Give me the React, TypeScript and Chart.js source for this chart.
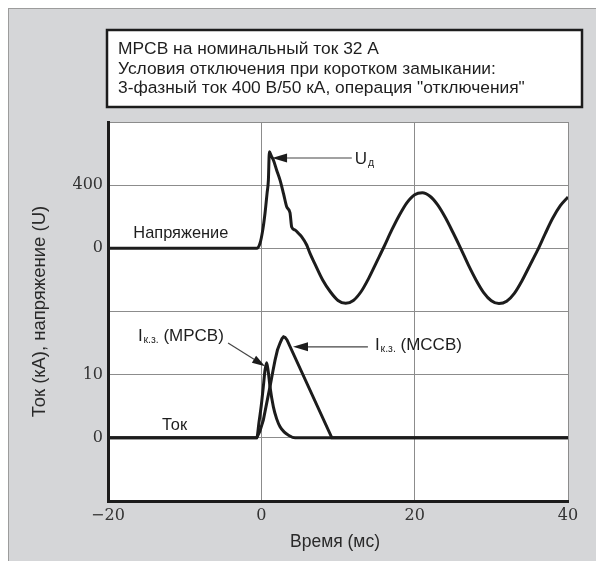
import { useEffect, useRef } from "react";
import { Chart, registerables } from "chart.js";

Chart.register(...registerables);

// ---------- data ----------
const timeTicks = [-20, 0, 20, 40];

const voltageTime = [
  -20, -0.6, -0.17, 0.2, 0.48, 0.75, 0.92, 1.05, 1.3, 1.57, 2.0, 2.44, 2.9, 3.31, 3.74, 3.96, 4.4, 4.9,
  5.27, 5.92, 6.35, 7, 8, 9, 10, 11, 12, 13, 14, 15, 16, 17, 18, 19, 20, 21, 22, 23, 24, 25, 26, 27, 28,
  29, 30, 31, 32, 33, 34, 35, 36, 37, 38, 39, 40,
];
const voltageValues = [
  0, 0, 32, 120, 222, 350, 432, 612, 585, 559, 495, 432, 345, 263, 225, 135, 116, 92,
  73, 21, -32, -100, -200, -275, -330, -348, -330, -275, -190, -90, 10, 115, 210, 290, 340, 352, 330, 275,
  195, 100, 0, -105, -200, -280, -332, -350, -335, -285, -205, -110, -15, 90, 190, 270, 325,
];

const mpcbTime = [-20, -0.6, -0.3, 0, 0.26, 0.48, 0.7, 0.9, 1.13, 1.57, 2.0, 2.44, 3.0, 3.5, 4.4, 40];
const mpcbValues = [0, 0, 2.5, 5.2, 8.1, 10.7, 11.9, 10.5, 8.1, 4.9, 3.0, 1.76, 0.9, 0.45, 0, 0];

const mccbTime = [-20, -0.6, -0.2, 0.26, 0.7, 1.13, 1.5, 1.79, 2.1, 2.44, 2.7, 2.9, 3.1, 3.35, 9.2, 40];
const mccbValues = [0, 0, 1.0, 2.8, 5.5, 8.1, 10.5, 12.3, 13.9, 15.0, 15.7, 16.0, 15.9, 15.5, 0, 0];

const voltageTickLabels = [400, 0];
const currentTickLabels = [10, 0];

const titleLines = [
  "MPCB на номинальный ток 32 А",
  "Условия отключения при коротком замыкании:",
  "3-фазный ток 400 В/50 кА, операция \"отключения\"",
];
const xTitle = "Время (мс)";
const yTitle = "Ток (кА), напряжение (U)";

// plain text notes (data coordinates)
const noteTexts = ["Напряжение", "Ток"];
const noteTimes = [-16.7, -12.95];
const noteValues = [68, 1.23];
const noteAxes = ["yV", "yI"];

// labels with subscript
const subMain = ["U", "I", "I"];
const subText = ["д", "к.з.", "к.з."];
const subRest = ["", " (MPCB)", " (MCCB)"];
const subTimes = [12.2, -16.1, 14.83];
const subValues = [534, 15.3, 13.9];
const subAxes = ["yV", "yI", "yI"];

// arrows (data coordinates)
const arrowFromT = [11.8, -4.34, 13.9];
const arrowFromV = [572, 15.0, 14.4];
const arrowToT = [1.4, 0.48, 4.13];
const arrowToV = [572, 11.35, 14.4];
const arrowAxes = ["yV", "yI", "yI"];
const arrowHeadLen = [15, 13, 15];
const arrowHeadWid = [9, 8, 9];

// ---------- styling ----------
const SANS = '"Liberation Sans", Arial, sans-serif';
const SERIF = '"DejaVu Serif", serif';
const INK = "#1c1c1c";
const GRID = "#8c8c8c";

const toPoints = (xs: number[], ys: number[]) => xs.map((x, i) => ({ x, y: ys[i] }));

function drawArrow(ctx: CanvasRenderingContext2D, x1: number, y1: number, x2: number, y2: number, hl: number, hw: number) {
  const ang = Math.atan2(y2 - y1, x2 - x1);
  const bx = x2 - Math.cos(ang) * hl;
  const by = y2 - Math.sin(ang) * hl;
  ctx.strokeStyle = "#444";
  ctx.lineWidth = 1.2;
  ctx.beginPath();
  ctx.moveTo(x1, y1);
  ctx.lineTo(bx, by);
  ctx.stroke();
  ctx.fillStyle = INK;
  ctx.beginPath();
  ctx.moveTo(x2, y2);
  ctx.lineTo(bx + Math.sin(ang) * hw / 2, by - Math.cos(ang) * hw / 2);
  ctx.lineTo(bx - Math.sin(ang) * hw / 2, by + Math.cos(ang) * hw / 2);
  ctx.closePath();
  ctx.fill();
}

const overlay = {
  id: "overlay",
  beforeDraw(chart: any) {
    const { ctx, chartArea: a } = chart;
    ctx.save();
    ctx.fillStyle = "#ffffff";
    ctx.fillRect(a.left, a.top, a.right - a.left, a.bottom - a.top);
    // title box
    ctx.fillRect(98, 21, 475, 77);
    ctx.strokeStyle = INK;
    ctx.lineWidth = 2.5;
    ctx.strokeRect(98, 21, 475, 77);
    ctx.fillStyle = "#1e1e1e";
    ctx.font = `17.4px ${SANS}`;
    ctx.textBaseline = "alphabetic";
    ctx.textAlign = "left";
    titleLines.forEach((l, i) => ctx.fillText(l, 109, 45 + i * 19.7));
    // axis titles
    ctx.fillStyle = "#2a2a2a";
    ctx.textAlign = "center";
    ctx.textBaseline = "middle";
    ctx.font = `17.5px ${SANS}`;
    ctx.fillText(xTitle, (a.left + a.right) / 2 - 3, 533);
    ctx.save();
    ctx.translate(31, (a.top + a.bottom) / 2);
    ctx.rotate(-Math.PI / 2);
    ctx.font = `18.5px ${SANS}`;
    ctx.fillText(yTitle, 0, 0);
    ctx.restore();
    ctx.restore();
  },
  afterDatasetsDraw(chart: any) {
    const { ctx, scales } = chart;
    const sx = scales.x;
    ctx.save();
    ctx.fillStyle = "#1e1e1e";
    ctx.textAlign = "left";
    ctx.textBaseline = "alphabetic";
    ctx.font = `16.4px ${SANS}`;
    noteTexts.forEach((t, i) => {
      ctx.fillText(t, sx.getPixelForValue(noteTimes[i]), scales[noteAxes[i]].getPixelForValue(noteValues[i]));
    });
    subMain.forEach((m, i) => {
      let x = sx.getPixelForValue(subTimes[i]);
      const y = scales[subAxes[i]].getPixelForValue(subValues[i]);
      ctx.font = `17px ${SANS}`;
      ctx.fillText(m, x, y);
      x += ctx.measureText(m).width + 0.8;
      ctx.font = `10.5px ${SANS}`;
      ctx.fillText(subText[i], x, y + 1.5);
      x += ctx.measureText(subText[i]).width;
      ctx.font = `17px ${SANS}`;
      if (subRest[i]) ctx.fillText(subRest[i], x, y);
    });
    arrowFromT.forEach((t, i) => {
      const ys = scales[arrowAxes[i]];
      drawArrow(
        ctx,
        sx.getPixelForValue(t),
        ys.getPixelForValue(arrowFromV[i]),
        sx.getPixelForValue(arrowToT[i]),
        ys.getPixelForValue(arrowToV[i]),
        arrowHeadLen[i],
        arrowHeadWid[i]
      );
    });
    ctx.restore();
  },
};

const tickFont = { family: SERIF, size: 16 };

export default function App() {
  const ref = useRef<HTMLCanvasElement>(null);
  useEffect(() => {
    const lineStyle = {
      borderColor: INK,
      borderWidth: 3,
      pointRadius: 0,
      fill: false,
    };
    const chart = new Chart(ref.current!, {
      type: "line",
      data: {
        datasets: [
          { ...lineStyle, cubicInterpolationMode: "monotone", data: toPoints(voltageTime, voltageValues), xAxisID: "x", yAxisID: "yV" },
          { ...lineStyle, tension: 0, data: toPoints(mccbTime, mccbValues), xAxisID: "x", yAxisID: "yI" },
          { ...lineStyle, cubicInterpolationMode: "monotone", data: toPoints(mpcbTime, mpcbValues), xAxisID: "x", yAxisID: "yI" },
        ],
      },
      options: {
        animation: false,
        responsive: false,
        devicePixelRatio: 1,
        events: [],
        layout: { padding: { top: 113, right: 30, left: 0, bottom: 0 } },
        plugins: { legend: { display: false }, tooltip: { enabled: false } },
        scales: {
          x: {
            type: "linear",
            min: -20,
            max: 40,
            afterBuildTicks: (s: any) => {
              s.ticks = timeTicks.map((v) => ({ value: v }));
            },
            ticks: {
              font: tickFont,
              color: "#333",
              padding: 5,
              maxRotation: 0,
              callback: (v: any) => (Number(v) < 0 ? "\u2212" + Math.abs(Number(v)) : String(v)),
            },
            grid: {
              drawTicks: false,
              lineWidth: 1,
              color: (c: any) => (c.tick && c.tick.value === -20 ? "rgba(0,0,0,0)" : GRID),
            },
            border: { color: INK, width: 3 },
            afterFit: (s: any) => {
              s.height = 60;
            },
          },
          yI: {
            type: "linear",
            axis: "y",
            position: "left",
            stack: "main",
            stackWeight: 1,
            min: -10,
            max: 20,
            ticks: {
              stepSize: 10,
              font: tickFont,
              color: "#333",
              padding: 5,
              callback: (v: any) => (currentTickLabels.includes(Number(v)) ? String(v) : ""),
            },
            grid: {
              drawTicks: false,
              lineWidth: 1,
              color: (c: any) =>
                c.tick && (c.tick.value === -10 || c.tick.value === 20) ? "rgba(0,0,0,0)" : GRID,
            },
            border: { color: INK, width: 3 },
            afterFit: (s: any) => {
              s.width = 99;
            },
          },
          yV: {
            type: "linear",
            axis: "y",
            position: "left",
            stack: "main",
            stackWeight: 1,
            min: -400,
            max: 800,
            ticks: {
              stepSize: 400,
              font: tickFont,
              color: "#333",
              padding: 5,
              callback: (v: any) => (voltageTickLabels.includes(Number(v)) ? String(v) : ""),
            },
            grid: { drawTicks: false, lineWidth: 1, color: GRID },
            border: { color: INK, width: 3 },
            afterFit: (s: any) => {
              s.width = 99;
            },
          },
        },
      } as any,
      plugins: [overlay],
    });
    return () => chart.destroy();
  }, []);
  return (
    <div
      style={{
        width: 589,
        height: 560,
        border: "1px solid #9c9c9c",
        background: "#d5d6d8",
      }}
    >
      <canvas ref={ref} width={589} height={552} style={{ display: "block" }} />
    </div>
  );
}
